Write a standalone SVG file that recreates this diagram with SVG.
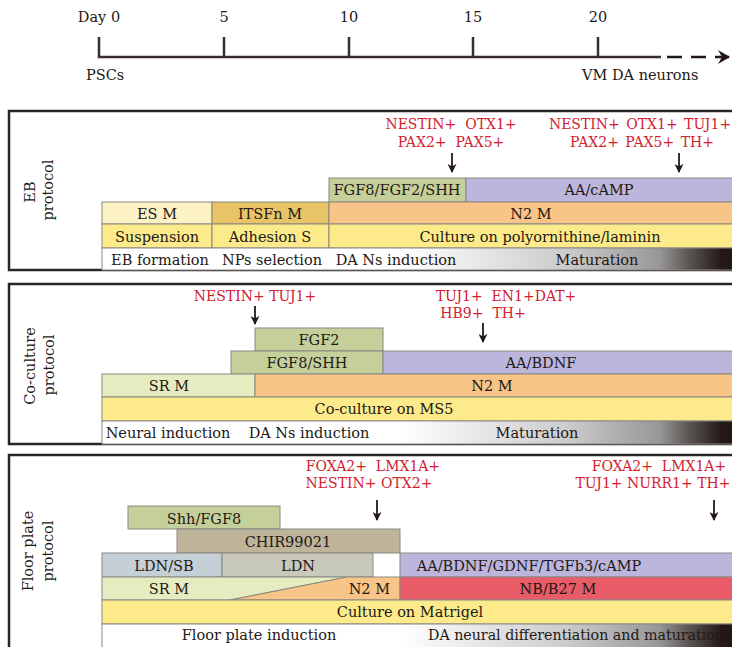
<svg xmlns="http://www.w3.org/2000/svg" width="732" height="647" viewBox="0 0 732 647">
<defs>
<style>
text{font-family:"DejaVu Serif","Liberation Serif",serif;font-size:14.5px;fill:#231815}
.c{text-anchor:middle}
.red{fill:#d2202f;font-size:14px}
.tl{font-size:14.5px}
.panel{fill:#fff;stroke:#2b2522;stroke-width:2.5}
.cell{stroke:#8a8783;stroke-width:1}
.grn{fill:#c4cf9a}.pur{fill:#bdb6dc}.org{fill:#f8c487}.yel{fill:#fdeb8b}.lgr{fill:#e5edc0}
.arr{stroke:#231815;stroke-width:1.8;fill:none;marker-end:url(#ah)}
</style>
<linearGradient id="g" gradientUnits="userSpaceOnUse" x1="400" y1="0" x2="732" y2="0">
<stop offset="0" stop-color="#ffffff"/>
<stop offset="0.5" stop-color="#cccccc"/>
<stop offset="0.78" stop-color="#999797"/>
<stop offset="0.87" stop-color="#5a5553"/>
<stop offset="0.97" stop-color="#231815"/>
</linearGradient>
<marker id="ah" viewBox="0 0 10 10" refX="9" refY="5" markerWidth="9" markerHeight="9" markerUnits="userSpaceOnUse" orient="auto">
<path d="M0,0 L10,5 L0,10 L3,5 z" fill="#231815"/>
</marker>
<marker id="big" viewBox="0 0 12 14" refX="11" refY="7" markerWidth="12" markerHeight="14" markerUnits="userSpaceOnUse" orient="auto">
<path d="M0,0 L12,7 L0,14 L4,7 z" fill="#231815"/>
</marker>
</defs>

<g id="timeline">
<text x="99" y="22" class="c tl">Day 0</text>
<text x="224" y="22" class="c tl">5</text>
<text x="349" y="22" class="c tl">10</text>
<text x="473" y="22" class="c tl">15</text>
<text x="598" y="22" class="c tl">20</text>
<text x="86" y="80" class="tl">PSCs</text>
<text x="582" y="80" class="tl">VM DA neurons</text>
</g>

<g id="eb-protocol">
<rect class="panel" x="9" y="111" width="740" height="159"/>
<text transform="translate(35,192) rotate(-90)" class="c">EB</text>
<text transform="translate(53,190) rotate(-90)" class="c">protocol</text>
<text x="451" y="129" class="red c" xml:space="preserve">NESTIN+  OTX1+</text>
<text x="451" y="147" class="red c" xml:space="preserve">PAX2+  PAX5+</text>
<text x="640" y="129" class="red c" word-spacing="2">NESTIN+ OTX1+ TUJ1+</text>
<text x="642" y="147" class="red c" word-spacing="2">PAX2+ PAX5+ TH+</text>
<rect class="cell grn" x="329" y="178" width="137" height="24"/>
<rect class="cell pur" x="466" y="178" width="280" height="24"/>
<rect class="cell" fill="#fdf2c4" x="102" y="202" width="110" height="22"/>
<rect class="cell" fill="#e8c466" x="212" y="202" width="117" height="22"/>
<rect class="cell org" x="329" y="202" width="420" height="22"/>
<rect class="cell yel" x="102" y="224" width="110" height="24"/>
<rect class="cell yel" x="212" y="224" width="117" height="24"/>
<rect class="cell yel" x="329" y="224" width="420" height="24"/>
<rect class="cell" fill="url(#g)" x="102" y="248" width="647" height="22"/>
<text x="397" y="195" class="c">FGF8/FGF2/SHH</text>
<text x="599" y="195" class="c">AA/cAMP</text>
<text x="157" y="219" class="c">ES M</text>
<text x="270" y="219" class="c">ITSFn M</text>
<text x="531" y="219" class="c">N2 M</text>
<text x="157" y="242" class="c">Suspension</text>
<text x="270" y="242" class="c">Adhesion S</text>
<text x="540" y="242" class="c">Culture on polyornithine/laminin</text>
<text x="160" y="265" class="c">EB formation</text>
<text x="272" y="265" class="c">NPs selection</text>
<text x="396" y="265" class="c">DA Ns induction</text>
<text x="597" y="265" class="c">Maturation</text>
</g>

<g id="coculture-protocol">
<rect class="panel" x="9" y="284" width="740" height="160"/>
<text transform="translate(35,366) rotate(-90)" class="c">Co-culture</text>
<text transform="translate(54,365) rotate(-90)" class="c">protocol</text>
<text x="255" y="301" class="red c">NESTIN+ TUJ1+</text>
<text x="506" y="301" class="red c" xml:space="preserve">TUJ1+  EN1+DAT+</text>
<text x="483" y="318" class="red c" xml:space="preserve">HB9+  TH+</text>
<rect class="cell grn" x="255" y="328" width="128" height="23"/>
<rect class="cell grn" x="231" y="351" width="152" height="23"/>
<rect class="cell pur" x="383" y="351" width="366" height="23"/>
<rect class="cell lgr" x="102" y="374" width="153" height="23"/>
<rect class="cell org" x="255" y="374" width="494" height="23"/>
<rect class="cell yel" x="102" y="397" width="647" height="24"/>
<rect class="cell" fill="url(#g)" x="102" y="421" width="647" height="23"/>
<text x="319" y="345" class="c">FGF2</text>
<text x="307" y="368" class="c">FGF8/SHH</text>
<text x="541" y="368" class="c">AA/BDNF</text>
<text x="169" y="391" class="c">SR M</text>
<text x="492" y="391" class="c">N2 M</text>
<text x="384" y="414" class="c">Co-culture on MS5</text>
<text x="168" y="438" class="c">Neural induction</text>
<text x="309" y="438" class="c">DA Ns induction</text>
<text x="537" y="438" class="c">Maturation</text>
</g>

<g id="floorplate-protocol">
<rect class="panel" x="9" y="455" width="740" height="200"/>
<text transform="translate(33,551) rotate(-90)" class="c">Floor plate</text>
<text transform="translate(53,551) rotate(-90)" class="c">protocol</text>
<text x="373" y="471" class="red c" xml:space="preserve">FOXA2+  LMX1A+</text>
<text x="369" y="488" class="red c" xml:space="preserve">NESTIN+ OTX2+</text>
<text x="659" y="471" class="red c" xml:space="preserve">FOXA2+  LMX1A+</text>
<text x="653" y="488" class="red c">TUJ1+ NURR1+ TH+</text>
<rect class="cell grn" x="128" y="506" width="152" height="23"/>
<rect class="cell" fill="#bdb49a" x="177" y="529" width="223" height="24"/>
<rect class="cell" fill="#c4cfd6" x="102" y="553" width="120" height="24"/>
<rect class="cell" fill="#c9c9bb" x="222" y="553" width="151" height="24"/>
<rect class="cell pur" x="400" y="553" width="349" height="24"/>
<polygon class="cell lgr" points="102,577 347,577 230,600 102,600"/>
<polygon class="cell org" points="347,577 400,577 400,600 230,600"/>
<rect class="cell" fill="#e85b67" x="400" y="577" width="349" height="23"/>
<rect class="cell yel" x="102" y="600" width="647" height="24"/>
<rect class="cell" fill="url(#g)" x="102" y="624" width="647" height="30"/>
<text x="204" y="524" class="c">Shh/FGF8</text>
<text x="288" y="547" class="c">CHIR99021</text>
<text x="164" y="571" class="c">LDN/SB</text>
<text x="298" y="571" class="c">LDN</text>
<text x="529" y="571" class="c">AA/BDNF/GDNF/TGFb3/cAMP</text>
<text x="169" y="594" class="c">SR M</text>
<text x="390" y="594" text-anchor="end">N2 M</text>
<text x="558" y="594" class="c">NB/B27 M</text>
<text x="410" y="617" class="c">Culture on Matrigel</text>
<text x="259" y="640" class="c">Floor plate induction</text>
<text x="428" y="640" font-size="14" textLength="296" lengthAdjust="spacingAndGlyphs">DA neural differentiation and maturation</text>
</g>

<g id="connectors">
<path d="M99,37 V57 H661 M224,37 V57 M349,37 V57 M473,37 V57 M598,37 V57" stroke="#3a2f2c" stroke-width="2.5" fill="none"/>
<path d="M667,57 H729" stroke="#231815" stroke-width="2.5" stroke-dasharray="15,9" fill="none" marker-end="url(#big)"/>
<line class="arr" x1="452" y1="153" x2="452" y2="172"/>
<line class="arr" x1="679" y1="153" x2="679" y2="172"/>
<line class="arr" x1="255" y1="306" x2="255" y2="324"/>
<line class="arr" x1="483" y1="323" x2="483" y2="342"/>
<line class="arr" x1="377" y1="500" x2="377" y2="520"/>
<line class="arr" x1="714" y1="500" x2="714" y2="520"/>
</g>
</svg>
